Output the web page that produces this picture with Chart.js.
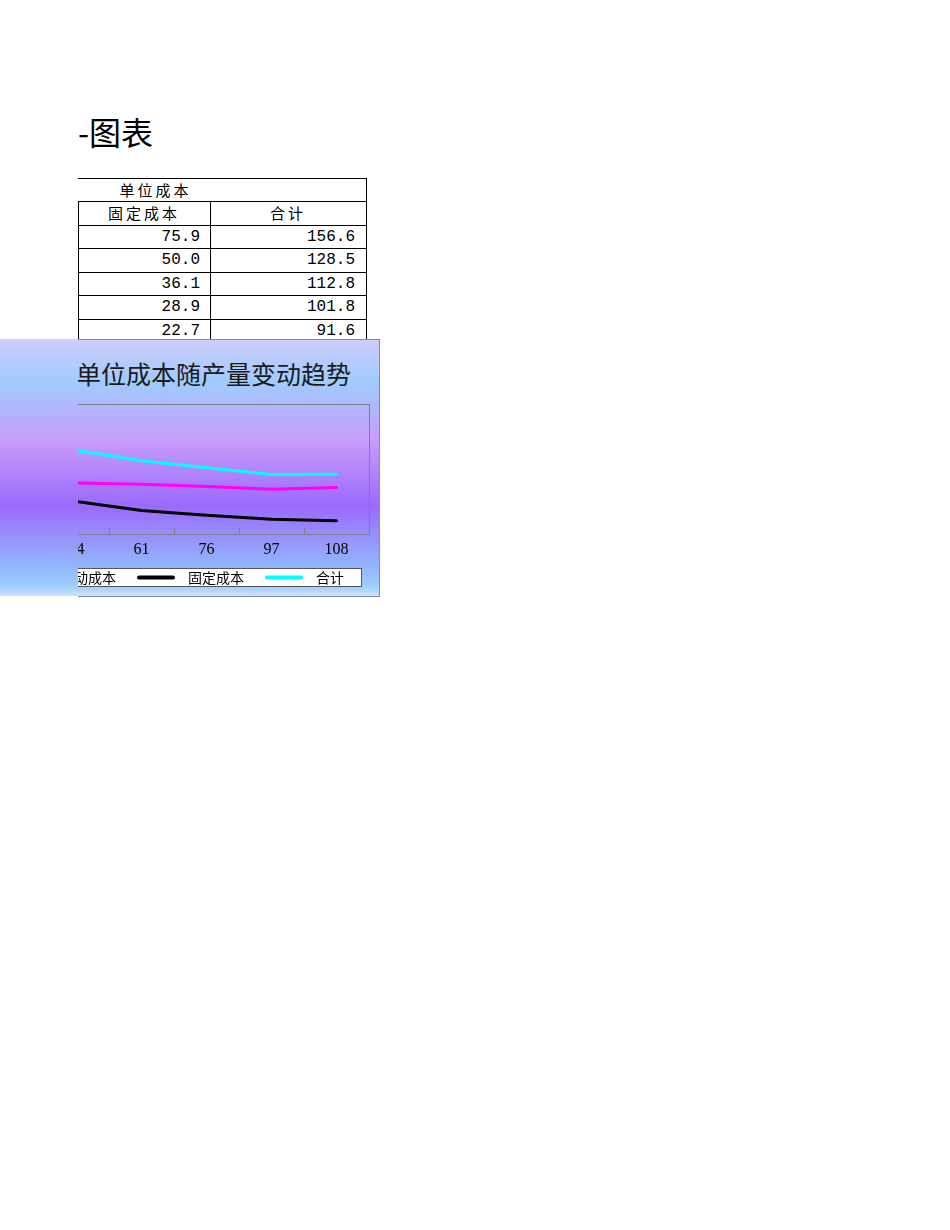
<!DOCTYPE html>
<html><head><meta charset="utf-8">
<script src="https://cdn.jsdelivr.net/npm/chart.js@4.4.1/dist/chart.umd.min.js"></script>
<style>
html,body{margin:0;padding:0;background:#fff;}
#page{position:relative;width:950px;height:1230px;overflow:hidden;font-family:"Noto Sans CJK SC",sans-serif;}
.clip{position:absolute;overflow:hidden;}
.hl{position:absolute;height:1px;background:#000;}
.vl{position:absolute;width:1px;background:#000;}
.cell{position:absolute;font-size:15px;line-height:23px;color:#000;}
.num{font-family:"Liberation Mono","DejaVu Sans Mono",monospace;font-size:16px;text-align:right;}
</style></head>
<body><div id="page">
  <div class="clip" style="left:78px;top:108px;width:200px;height:50px;">
    <div style="position:absolute;left:0px;top:0;font-size:32px;line-height:46px;color:#000;">-图表</div>
  </div>
  <div id="table"></div>
  <div id="chartBg" style="position:absolute;left:0;top:339px;width:380px;height:257px;z-index:5;
     background:linear-gradient(to bottom,#cfcdfb 0%,#9fcbfd 17%,#c89cfb 39%,#9a6afb 65%,#93b4fd 88%,#9ccdfd 96%,#cfe0fd 100%);"></div>
  <div style="position:absolute;left:78px;top:339px;width:301px;height:256px;z-index:6;border-top:1px solid #8a8aa8;border-right:1px solid #8a8aa8;border-bottom:1px solid #8a8aa8;"></div>
  <div class="clip" style="left:78px;top:339px;width:302px;height:257px;z-index:7;">
    <div style="position:absolute;left:-2px;top:18px;font-size:25px;line-height:32px;color:#1a1a1a;white-space:nowrap;">单位成本随产量变动趋势</div>
    <canvas id="c" width="480" height="257" style="position:absolute;left:-178px;top:0;width:480px;height:257px;"></canvas>
  </div>
</div>
<script>
const quantities = ['29','44','61','76','97','108'];
const variableCost = [80.7, 78.5, 76.7, 72.9, 68.9, 71.6];
const fixedCost = [75.9, 50.0, 36.1, 28.9, 22.7, 20.4];
const totalCost = [156.6, 128.5, 112.8, 101.8, 91.6, 92.0];
const seriesNames = ['变动成本', '固定成本', '合计'];
const tableHeader = '单位成本';
const visibleTableRows = 5;

// ---- table ----
(function(){
  const t = document.getElementById('table');
  let h = '';
  const rowTops = [178, 201, 224.5, 248, 271.5, 295, 318.5];
  rowTops.forEach(y => { h += `<div class="hl" style="left:78px;width:289px;top:${Math.round(y)}px"></div>`; });
  h += `<div class="vl" style="left:366px;top:178px;height:170px"></div>`;
  h += `<div class="vl" style="left:78px;top:201px;height:147px"></div>`;
  h += `<div class="vl" style="left:210px;top:201px;height:147px"></div>`;
  h += `<div class="cell" style="left:78px;width:155px;top:178px;text-align:center;letter-spacing:3px">${tableHeader}</div>`;
  h += `<div class="cell" style="left:78px;width:132px;top:201px;text-align:center;letter-spacing:3px">${seriesNames[1]}</div>`;
  h += `<div class="cell" style="left:210px;width:156px;top:201px;text-align:center;letter-spacing:3px">${seriesNames[2]}</div>`;
  fixedCost.slice(0, visibleTableRows).forEach((v,i) => {
    const y = Math.round(rowTops[i+2]) + 1;
    h += `<div class="cell num" style="left:78px;width:122px;top:${y}px">${v.toFixed(1)}</div>`;
    h += `<div class="cell num" style="left:210px;width:145px;top:${y}px">${totalCost[i].toFixed(1)}</div>`;
  });
  t.innerHTML = h;
})();

// ---- chart ----
const framePlugin = {
  id: 'frame',
  beforeDatasetsDraw(chart) {
    const {ctx, chartArea: a, scales: {x}} = chart;
    ctx.save();
    ctx.strokeStyle = '#7f7f8f';
    ctx.lineWidth = 1;
    ctx.strokeRect(Math.round(a.left)+0.5, Math.round(a.top)+0.5, Math.round(a.right-a.left), Math.round(a.bottom-a.top));
    ctx.beginPath();
    for (let i = 0; i < quantities.length - 1; i++) {
      const px = Math.round((x.getPixelForValue(i) + x.getPixelForValue(i+1)) / 2) + 0.5;
      ctx.moveTo(px, Math.round(a.bottom)); ctx.lineTo(px, Math.round(a.bottom) - 6);
    }
    ctx.stroke();
    ctx.restore();
  },
  afterDraw(chart) {
    const ctx = chart.ctx;
    ctx.save();
    const bx = 100, by = 229, bw = 361, bh = 18;
    ctx.fillStyle = '#fff';
    ctx.fillRect(bx, by, bw, bh);
    ctx.strokeStyle = '#555';
    ctx.lineWidth = 1;
    ctx.strokeRect(bx + 0.5, by + 0.5, bw, bh);
    ctx.font = '14px "Noto Sans CJK SC", sans-serif';
    ctx.textBaseline = 'middle';
    chart.data.datasets.forEach((ds, i) => {
      const lx = 109 + i * 128;
      const ly = by + bh / 2 + 0.5;
      ctx.strokeStyle = ds.borderColor;
      ctx.lineWidth = 4;
      ctx.lineCap = 'round';
      ctx.beginPath(); ctx.moveTo(lx + 2, ly); ctx.lineTo(lx + 36, ly); ctx.stroke();
      ctx.fillStyle = '#000';
      ctx.fillText(ds.label, lx + 51, ly);
    });
    ctx.restore();
  }
};

new Chart(document.getElementById('c'), {
  type: 'line',
  data: {
    labels: quantities,
    datasets: [
      {label: seriesNames[0], data: variableCost, borderColor: '#ff00ff'},
      {label: seriesNames[1], data: fixedCost, borderColor: '#000000'},
      {label: seriesNames[2], data: totalCost, borderColor: '#00ffff'}
    ].map(d => Object.assign(d, {borderWidth: 3, pointRadius: 0, tension: 0, fill: false, borderCapStyle: 'round', borderJoinStyle: 'round'}))
  },
  options: {
    responsive: false,
    animation: false,
    devicePixelRatio: 1,
    layout: {padding: {left: 79, right: 11, top: 65, bottom: 0}},
    plugins: {legend: {display: false}, tooltip: {enabled: false}, title: {display: false}},
    scales: {
      x: {
        offset: true,
        grid: {display: false, drawTicks: false},
        border: {display: false},
        ticks: {color: '#000', padding: 6, font: {family: '"Liberation Serif", serif', size: 16}, maxRotation: 0, autoSkip: false},
        afterFit(s) { s.height = 62; }
      },
      y: {display: false, min: 0, max: 200}
    }
  },
  plugins: [framePlugin]
});
</script>
</body></html>
